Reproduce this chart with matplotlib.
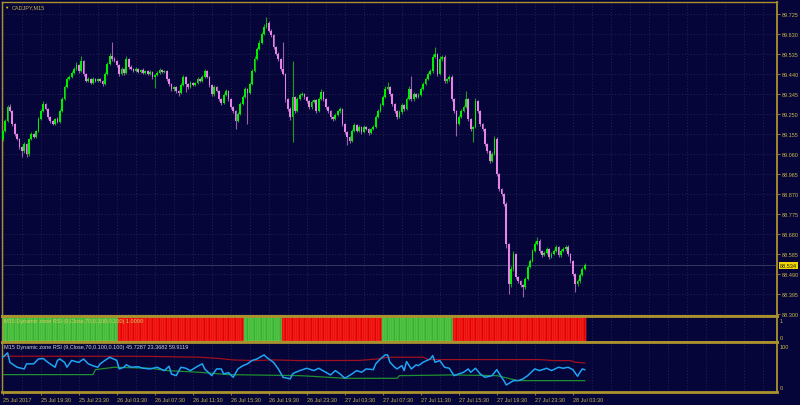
import numpy as np
import matplotlib
matplotlib.use("Agg")
import matplotlib.pyplot as plt
from matplotlib import font_manager as fm

# ---------------- data ----------------
first_open = 89.133
closes = [
    89.171, 89.218, 89.285, 89.266, 89.204, 89.157, 89.133, 89.095, 89.076, 89.109,
    89.062, 89.133, 89.157, 89.142, 89.171, 89.228, 89.266, 89.299, 89.276, 89.238,
    89.218, 89.204, 89.228, 89.214, 89.266, 89.323, 89.380, 89.418, 89.427, 89.446,
    89.465, 89.484, 89.456, 89.503, 89.442, 89.409, 89.418, 89.399, 89.418, 89.409,
    89.418, 89.409, 89.394, 89.442, 89.489, 89.527, 89.513, 89.503, 89.484, 89.442,
    89.465, 89.446, 89.513, 89.475, 89.465, 89.456, 89.465, 89.451, 89.461, 89.446,
    89.456, 89.442, 89.451, 89.427, 89.437, 89.446, 89.461, 89.451, 89.456, 89.418,
    89.394, 89.370, 89.380, 89.361, 89.352, 89.390, 89.427, 89.394, 89.380, 89.399,
    89.390, 89.399, 89.418, 89.409, 89.427, 89.456, 89.427, 89.390, 89.347, 89.380,
    89.361, 89.323, 89.304, 89.342, 89.361, 89.323, 89.285, 89.266, 89.218, 89.252,
    89.299, 89.332, 89.370, 89.352, 89.394, 89.456, 89.513, 89.560, 89.589, 89.632,
    89.665, 89.684, 89.646, 89.627, 89.570, 89.537, 89.513, 89.465, 89.442, 89.323,
    89.276, 89.238, 89.332, 89.266, 89.323, 89.342, 89.347, 89.332, 89.313, 89.285,
    89.309, 89.318, 89.266, 89.323, 89.356, 89.323, 89.285, 89.266, 89.238, 89.228,
    89.247, 89.266, 89.276, 89.204, 89.166, 89.142, 89.124, 89.171, 89.200, 89.171,
    89.190, 89.166, 89.190, 89.181, 89.162, 89.181, 89.190, 89.238, 89.266, 89.295,
    89.332, 89.370, 89.380, 89.347, 89.299, 89.266, 89.238, 89.261, 89.295, 89.276,
    89.323, 89.370, 89.323, 89.347, 89.332, 89.342, 89.370, 89.394, 89.418, 89.442,
    89.456, 89.523, 89.537, 89.442, 89.513, 89.523, 89.409, 89.418, 89.427, 89.323,
    89.266, 89.204, 89.238, 89.266, 89.285, 89.323, 89.228, 89.181, 89.190, 89.313,
    89.266, 89.204, 89.181, 89.109, 89.076, 89.029, 89.062, 89.133, 88.967, 88.896,
    88.872, 88.824, 88.634, 88.444, 88.516, 88.587, 88.478, 88.459, 88.440, 88.430,
    88.468, 88.525, 88.554, 88.601, 88.634, 88.649, 88.601, 88.582, 88.592, 88.610,
    88.573, 88.587, 88.601, 88.620, 88.582, 88.601, 88.610, 88.620, 88.587, 88.554,
    88.492, 88.444, 88.459, 88.487, 88.516, 88.534,
]
# wick lengths in points (0.001)
upper_wick = [
    6, 8, 10, 12, 5, 4, 6, 5, 4, 8,
    5, 6, 8, 4, 6, 9, 8, 14, 6, 5,
    4, 6, 5, 8, 7, 10, 9, 8, 10, 8,
    9, 12, 6, 24, 5, 6, 8, 5, 7, 6,
    5, 6, 4, 9, 10, 12, 67, 8, 6, 5,
    8, 5, 12, 6, 7, 5, 8, 6, 5, 7,
    6, 5, 7, 5, 6, 8, 9, 5, 6, 4,
    5, 4, 6, 5, 4, 8, 10, 5, 6, 7,
    5, 6, 8, 6, 9, 10, 6, 5, 4, 8,
    6, 4, 5, 9, 8, 5, 4, 5, 4, 10,
    9, 8, 10, 6, 9, 10, 12, 10, 12, 10,
    12, 28, 8, 9, 6, 5, 7, 6, 129, 5,
    6, 8, 171, 6, 10, 9, 8, 6, 5, 4,
    8, 6, 5, 10, 12, 6, 5, 4, 5, 6,
    7, 6, 8, 4, 5, 4, 5, 8, 9, 6,
    7, 5, 8, 6, 5, 6, 8, 10, 9, 10,
    10, 12, 24, 6, 5, 4, 6, 8, 10, 6,
    10, 12, 62, 8, 6, 7, 10, 9, 10, 9,
    10, 14, 33, 6, 14, 10, 8, 6, 7, 8,
    5, 4, 8, 9, 8, 38, 6, 5, 6, 12,
    6, 5, 4, 6, 5, 4, 8, 12, 8, 5,
    6, 5, 8, 6, 12, 15, 6, 5, 4, 6,
    10, 8, 9, 10, 12, 19, 8, 6, 8, 9,
    6, 8, 10, 9, 6, 8, 9, 10, 8, 6,
    5, 6, 8, 10, 9, 10,
]
lower_wick = [
    8, 6, 5, 6, 8, 10, 7, 9, 28, 8,
    15, 8, 6, 7, 5, 4, 6, 5, 7, 9,
    8, 6, 7, 6, 5, 6, 5, 7, 6, 5,
    6, 5, 8, 6, 9, 6, 5, 7, 6, 5,
    6, 5, 8, 6, 5, 6, 8, 7, 9, 12,
    6, 8, 5, 9, 6, 7, 5, 6, 7, 5,
    6, 8, 6, 9, 52, 6, 5, 7, 6, 8,
    9, 10, 8, 9, 14, 6, 5, 38, 8, 6,
    7, 6, 5, 6, 5, 6, 7, 9, 10, 8,
    7, 9, 10, 6, 7, 9, 10, 8, 38, 6,
    5, 6, 5, 148, 6, 5, 6, 7, 5, 6,
    5, 6, 7, 8, 9, 8, 10, 9, 8, 14,
    12, 15, 119, 8, 6, 7, 6, 8, 9, 10,
    8, 6, 12, 7, 6, 8, 9, 10, 11, 8,
    6, 7, 8, 10, 12, 39, 10, 8, 6, 7,
    6, 8, 5, 7, 9, 6, 5, 6, 5, 6,
    5, 6, 5, 8, 9, 10, 12, 6, 8, 9,
    6, 5, 8, 12, 6, 7, 5, 6, 5, 4,
    6, 8, 7, 12, 6, 8, 10, 9, 8, 12,
    10, 57, 6, 8, 5, 6, 12, 10, 62, 6,
    8, 10, 9, 12, 10, 12, 8, 6, 10, 9,
    8, 12, 20, 47, 15, 12, 10, 8, 9, 47,
    8, 6, 5, 6, 7, 6, 9, 8, 7, 6,
    8, 6, 7, 5, 9, 8, 6, 7, 8, 10,
    12, 38, 10, 8, 6, 5,
]

price_ticks = [88.300, 88.395, 88.490, 88.585, 88.680, 88.775, 88.870, 88.965,
               89.060, 89.155, 89.250, 89.345, 89.440, 89.535, 89.630, 89.725]

time_tick_bars = [0, 16, 32, 48, 64, 80, 96, 112, 128, 144, 160, 176, 192, 208, 224, 240]
time_tick_labels = ['25 Jul 2017', '25 Jul 19:30', '25 Jul 23:30', '26 Jul 03:30',
                    '26 Jul 07:30', '26 Jul 11:30', '26 Jul 15:30', '26 Jul 19:30',
                    '26 Jul 23:30', '27 Jul 03:30', '27 Jul 07:30', '27 Jul 11:30',
                    '27 Jul 15:30', '27 Jul 19:30', '27 Jul 23:30', '28 Jul 03:30']

# signal histogram: runs of bars (length, state)
zone_run_lengths = [49, 53, 16, 42, 30, 56]
zone_run_states = ['up', 'down', 'up', 'down', 'up', 'down']
zone_value = 1.0

# RSI line and dynamic zone bands: (bar index, value)
rsi_bar = [0, 2, 3, 6, 9, 10, 13, 15, 17, 19, 22, 23, 24, 26, 27, 29, 32, 34, 36, 38,
           40, 41, 43, 45, 48, 49, 51, 52, 54, 57, 59, 62, 65, 68, 70, 71, 73, 75, 77, 79,
           82, 84, 85, 88, 90, 92, 93, 95, 97, 99, 101, 103, 105, 107, 110, 111, 114, 116, 118, 121,
           122, 123, 125, 128, 131, 133, 136, 138, 140, 142, 144, 147, 149, 151, 153, 156, 157, 159, 161, 162,
           163, 165, 166, 168, 169, 170, 172, 174, 175, 177, 180, 181, 182, 184, 186, 188, 190, 192, 194, 196,
           197, 199, 201, 203, 206, 208, 210, 211, 212, 215, 217, 219, 221, 224, 226, 229, 231, 234, 236, 238,
           240, 242, 243, 244, 245]
rsi_val = [71.6, 80.6, 61.0, 51.0, 47.5, 58.0, 58.0, 68.0, 69.0, 61.0, 51.0, 65.0, 68.0, 61.0, 51.0, 65.0, 61.0, 68.0, 58.0, 54.0,
           51.0, 58.0, 65.0, 71.6, 65.0, 47.5, 51.0, 56.0, 51.0, 52.0, 49.0, 47.5, 51.0, 44.0, 53.0, 37.0, 33.7, 51.0, 49.0, 44.0,
           53.0, 58.0, 47.5, 33.7, 47.5, 47.5, 37.0, 40.0, 30.3, 47.5, 54.0, 58.0, 65.0, 68.0, 76.4, 71.6, 61.0, 47.5, 30.3, 27.0,
           37.0, 40.0, 44.0, 48.9, 44.1, 48.9, 40.6, 35.1, 44.1, 37.2, 28.2, 37.2, 44.1, 40.6, 47.5, 46.1, 57.9, 68.2, 76.4, 76.4,
           61.3, 51.0, 47.5, 54.4, 44.1, 62.7, 47.5, 55.8, 54.4, 61.3, 68.2, 75.0, 61.3, 64.7, 51.0, 48.9, 33.7, 37.2, 40.6, 47.5,
           40.6, 48.9, 37.2, 30.3, 33.7, 46.1, 30.3, 23.4, 14.5, 23.4, 23.4, 26.9, 33.7, 47.5, 44.1, 48.9, 44.1, 51.0, 48.9, 51.0,
           46.1, 32.4, 40.6, 47.5, 45.7287]
upper_bar = [0, 60, 83, 90, 97, 106, 114, 125, 150, 158, 162, 177, 179, 226, 232, 239, 241, 245]
upper_val = [73.7, 73.5, 71.6, 69.5, 66.1, 64.7, 66.1, 64.7, 65.0, 68.2, 71.6, 71.6, 66.8, 66.8, 64.7, 64.7, 61.3, 59.9119]
lower_bar = [0, 38, 39, 47, 62, 69, 83, 95, 125, 130, 144, 166, 167, 189, 208, 213, 217, 245]
lower_val = [35.8, 35.8, 46.1, 51.0, 48.9, 44.1, 40.6, 35.8, 33.7, 32.4, 28.2, 28.2, 33.7, 35.1, 33.7, 28.0, 23.4, 23.3682]

symbol_title = 'CADJPY,M15'
zone_title = 'M15 Dynamic zone RSI (9,Close,70,0.100,0.100) 1.0000'
rsi_title = 'M15 Dynamic zone RSI (9,Close,70,0.100,0.100) 45.7287 23.3682 59.9119'

# ---------------- style ----------------
avail = {f.name for f in fm.fontManager.ttflist}
if 'Liberation Sans Narrow' in avail:
    FONT, FS = 'Liberation Sans Narrow', 4.8
else:
    FONT, FS = 'Liberation Sans', 4.0
plt.rcParams['font.family'] = [FONT, 'DejaVu Sans']

BG = '#05053a'
GOLD = '#ab922c'
TXT = '#c8b44c'
GRID = '#24244e'
BULL, BEAR = '#00ee00', '#e684e6'
BULL_W, BEAR_W = '#1f9a1f', '#9a60a8'

n = len(closes)
idx = np.arange(n)
c = np.array(closes)
o = np.array([first_open] + closes[:-1])
hi = np.maximum(o, c) + np.array(upper_wick) * 0.001
lo = np.minimum(o, c) - np.array(lower_wick) * 0.001
bull = c >= o

fig = plt.figure(figsize=(8.0, 4.06), dpi=100, facecolor=BG)
L, W = 1.5 / 800, 775.2 / 800
ax = fig.add_axes([L, 1 - 317 / 406, W, 314 / 406])
axz = fig.add_axes([L, 1 - 343 / 406, W, 26 / 406])
axr = fig.add_axes([L, 1 - 393 / 406, W, 50 / 406])

XMIN, XMAX = -0.55, 325.85
for a in (ax, axz, axr):
    a.set_facecolor(BG)
    a.set_xlim(XMIN, XMAX)
    for s in a.spines.values():
        s.set_color(GOLD)
        s.set_linewidth(2.0)
    a.tick_params(axis='x', bottom=False, labelbottom=False)
    a.tick_params(axis='y', left=False, labelleft=False, right=False, labelright=False)
    for g in range(0, 326, 8):
        a.axvline(g, color=GRID, lw=0.7, ls=(0, (1, 2)), zorder=0)
ax.spines['top'].set_linewidth(1.0)
for a in (ax, axz, axr):
    a.spines['left'].set_linewidth(1.0)
    a.spines['right'].set_linewidth(1.3)

# ---- main candles ----
ax.set_ylim(88.292, 89.783)
for p in price_ticks:
    ax.axhline(p, color=GRID, lw=0.7, ls=(0, (1, 2)), zorder=0)
ax.axhline(closes[-1], color='#3c3c62', lw=0.6, zorder=1)
ax.vlines(idx, lo, hi, colors=np.where(bull, BULL_W, BEAR_W), lw=0.8, zorder=2)
body_h = np.maximum(np.abs(c - o), 0.0015)
ax.bar(idx, body_h, bottom=np.minimum(o, c), width=0.72,
       color=np.where(bull, BULL, BEAR), lw=0, zorder=3)

ax.yaxis.tick_right()
ax.set_yticks(price_ticks)
ax.set_yticklabels([f'{p:.3f}' for p in price_ticks])
ax.tick_params(axis='y', right=True, labelright=True, length=2.5, width=0.6,
               color=GOLD, labelcolor=TXT, labelsize=FS, pad=1)

ax.annotate('\u25bc', xy=(0, 1), xycoords='axes fraction', xytext=(2.5, -2.5),
            textcoords='offset pixels', va='top', ha='left', fontsize=FS - 0.8,
            color='#e8c800')
ax.annotate(symbol_title, xy=(0, 1), xycoords='axes fraction', xytext=(10, -2),
            textcoords='offset pixels', va='top', ha='left', fontsize=FS,
            color=TXT)
ax.annotate(f'{closes[-1]:.3f}', xy=(1, closes[-1]), xycoords=('axes fraction', 'data'),
            xytext=(3, 0), textcoords='offset pixels', va='center', ha='left',
            fontsize=FS, color='#202000',
            bbox=dict(boxstyle='square,pad=0.18', fc='#f2d600', ec='none'),
            annotation_clip=False)

# ---- zone histogram ----
zone_colors, zone_edges = [], []
for ln, st in zip(zone_run_lengths, zone_run_states):
    zone_colors += [('#35b035' if st == 'up' else '#e40000')] * ln
    zone_edges += [('#7ede5a' if st == 'up' else '#ff4a3a')] * ln
axz.set_ylim(-0.05, 1.05)
axz.bar(idx, [zone_value] * n, width=1.0, color=zone_colors,
        edgecolor=zone_edges, lw=0.35, zorder=2)
axz.annotate(zone_title, xy=(0, 1), xycoords='axes fraction', xytext=(3, -2.5),
             textcoords='offset pixels', va='top', ha='left', fontsize=FS,
             color='#d8cc60', zorder=5)
axz.annotate('1', xy=(1, 1), xycoords='axes fraction', xytext=(3, -5),
             textcoords='offset pixels', va='center', ha='left', fontsize=FS,
             color=TXT, annotation_clip=False)
axz.annotate('0', xy=(1, 0), xycoords='axes fraction', xytext=(3, 5),
             textcoords='offset pixels', va='center', ha='left', fontsize=FS,
             color=TXT, annotation_clip=False)

# ---- RSI panel ----
axr.set_ylim(0, 103)
axr.plot(upper_bar, upper_val, color='#a0101e', lw=0.9, zorder=2)
axr.plot(lower_bar, lower_val, color='#1f8f2f', lw=0.9, zorder=2)
axr.plot(rsi_bar, rsi_val, color='#1fa4f2', lw=1.1, zorder=3)
axr.annotate(rsi_title, xy=(0, 1), xycoords='axes fraction', xytext=(3, -2.5),
             textcoords='offset pixels', va='top', ha='left', fontsize=FS,
             color='#d2d2d2')
axr.annotate('100', xy=(1, 100), xycoords=('axes fraction', 'data'), xytext=(3, -3),
             textcoords='offset pixels', va='center', ha='left', fontsize=FS,
             color=TXT, annotation_clip=False)
axr.annotate('0', xy=(1, 0), xycoords=('axes fraction', 'data'), xytext=(3, 4),
             textcoords='offset pixels', va='center', ha='left', fontsize=FS,
             color=TXT, annotation_clip=False)
axr.set_xticks(time_tick_bars)
axr.set_xticklabels(time_tick_labels)
axr.tick_params(axis='x', bottom=True, labelbottom=True, length=2.5, width=0.6,
                color=GOLD, labelcolor=TXT, labelsize=FS, pad=1)
for t in axr.get_xticklabels():
    t.set_ha('left')

fig.savefig('out.png', dpi=100, facecolor=BG)
